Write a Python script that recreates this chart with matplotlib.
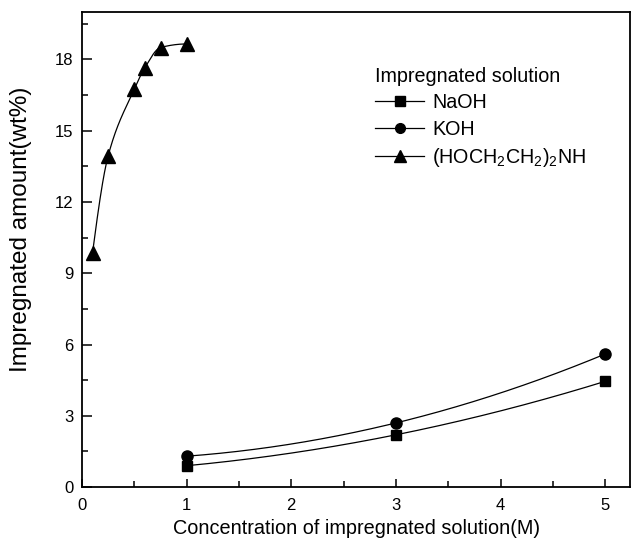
import numpy as np
import matplotlib
matplotlib.use("Agg")
import matplotlib.pyplot as plt

plt.rcParams['font.family'] = ['Liberation Sans', 'DejaVu Sans']
plt.rcParams['mathtext.fontset'] = 'custom'
plt.rcParams['mathtext.rm'] = 'Liberation Sans'
plt.rcParams['mathtext.default'] = 'regular'

# Data
naoh_x = [1, 3, 5]
naoh_y = [0.9, 2.2, 4.45]
koh_x = [1, 3, 5]
koh_y = [1.3, 2.7, 5.6]
dea_x = [0.1, 0.25, 0.5, 0.6, 0.75, 1.0]
dea_y = [9.85, 13.95, 16.75, 17.65, 18.5, 18.65]
labels = ['NaOH', 'KOH', '(HOCH$_2$CH$_2$)$_2$NH']
xlabel = 'Concentration of impregnated solution(M)'
ylabel = 'Impregnated amount(wt%)'
legend_title = 'Impregnated solution'


def pchip(x, y, xs):
    x = np.asarray(x, float); y = np.asarray(y, float)
    h = np.diff(x)
    d = np.diff(y) / h
    n = len(x)
    m = np.zeros(n)
    for k in range(1, n - 1):
        if d[k - 1] * d[k] > 0:
            w1 = 2 * h[k] + h[k - 1]
            w2 = h[k] + 2 * h[k - 1]
            m[k] = (w1 + w2) / (w1 / d[k - 1] + w2 / d[k])
    m[0] = ((2 * h[0] + h[1]) * d[0] - h[0] * d[1]) / (h[0] + h[1])
    if np.sign(m[0]) != np.sign(d[0]):
        m[0] = 0
    m[-1] = ((2 * h[-1] + h[-2]) * d[-1] - h[-1] * d[-2]) / (h[-1] + h[-2])
    if np.sign(m[-1]) != np.sign(d[-1]):
        m[-1] = 0
    out = np.empty_like(xs)
    for j, xv in enumerate(xs):
        i = min(max(np.searchsorted(x, xv) - 1, 0), n - 2)
        t = (xv - x[i]) / h[i]
        h00 = 2 * t**3 - 3 * t**2 + 1
        h10 = t**3 - 2 * t**2 + t
        h01 = -2 * t**3 + 3 * t**2
        h11 = t**3 - t**2
        out[j] = h00 * y[i] + h10 * h[i] * m[i] + h01 * y[i + 1] + h11 * h[i] * m[i + 1]
    return out


fig = plt.figure(figsize=(6.36, 5.40), dpi=100)
ax = fig.add_axes([0.129, 0.098, 0.862, 0.880])

lw = 0.9
# fitted curves
xs = np.linspace(1, 5, 200)
for xd, yd in [(naoh_x, naoh_y), (koh_x, koh_y)]:
    p = np.polyfit(xd, yd, 2)
    ax.plot(xs, np.polyval(p, xs), color='black', lw=lw)
xs2 = np.linspace(dea_x[0], dea_x[-1], 300)
ax.plot(xs2, pchip(dea_x, dea_y, xs2), color='black', lw=lw)

# markers
ax.plot(naoh_x, naoh_y, 's', color='black', ms=7.5, ls='none')
ax.plot(koh_x, koh_y, 'o', color='black', ms=8, ls='none')
ax.plot(dea_x, dea_y, '^', color='black', ms=9.5, ls='none')

# legend handles
h1, = ax.plot([], [], '-s', color='black', ms=6.5, lw=lw)
h2, = ax.plot([], [], '-o', color='black', ms=7, lw=lw)
h3, = ax.plot([], [], '-^', color='black', ms=8, lw=lw)
leg = ax.legend([h1, h2, h3], labels, title=legend_title, frameon=False,
                loc='upper left', bbox_to_anchor=(0.509, 0.914), fontsize=14.2,
                title_fontsize=14.2, numpoints=1, handlelength=2.5,
                handletextpad=0.4, labelspacing=0.38, alignment='left',
                borderaxespad=0.3)

ax.set_xlim(0, 5.24)
ax.set_ylim(0, 20)
ax.set_xticks([0, 1, 2, 3, 4, 5])
ax.set_xticks(np.arange(0.5, 5.0, 1.0), minor=True)
ax.set_yticks([0, 3, 6, 9, 12, 15, 18])
ax.set_yticks(np.arange(1.5, 20, 3), minor=True)
ax.tick_params(which='both', direction='in', labelsize=12, width=1.1)
ax.tick_params(axis='x', which='major', length=6, pad=8)
ax.tick_params(axis='x', which='minor', length=4)
ax.tick_params(axis='y', which='major', length=7, pad=6)
ax.tick_params(axis='y', which='minor', length=4)
for s in ax.spines.values():
    s.set_linewidth(1.3)

ax.set_xlabel(xlabel, fontsize=14.3)
ax.xaxis.label.set_va('center')
ax.xaxis.set_label_coords(0.5, -0.088)
ax.set_ylabel(ylabel, fontsize=17.5)
ax.yaxis.label.set_va('center')
ax.yaxis.set_label_coords(-0.111, 0.543)

fig.savefig('out.png', dpi=100)
